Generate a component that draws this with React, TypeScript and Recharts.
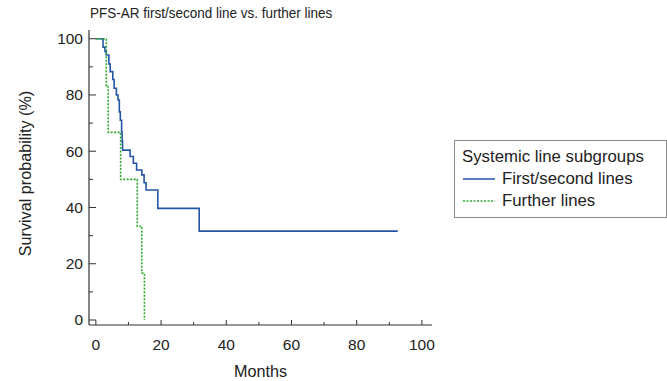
// PFS-AR Kaplan-Meier curves (step lines)
import React from 'react'
import { LineChart, Line, XAxis, YAxis, Legend, Label } from 'recharts'

const blueMonths = [0, 2.2, 2.8, 3.2, 4.0, 4.4, 5.2, 5.6, 6.3, 6.8, 7.2, 7.5, 7.9, 8.05, 8.2, 10.5, 11.5, 12.5, 14.1, 14.8, 15.4, 19.0, 31.7, 92.6]
const blueSurv = [100, 97, 95.5, 94.2, 91, 88.3, 85.5, 82.4, 80, 78.2, 74, 71, 66.8, 63.5, 60.4, 58.1, 55.7, 53.3, 51.6, 48.8, 46.2, 39.7, 31.6, 31.6]

const greenMonths = [0, 3.2, 3.8, 7.6, 12.7, 14.1, 14.9]
const greenSurv = [100, 83.3, 66.7, 50, 33.3, 16.7, 0]

const xTicks = [0, 10, 20, 30, 40, 50, 60, 70, 80, 90, 100]
const yTicks = [0, 10, 20, 30, 40, 50, 60, 70, 80, 90, 100]

const seriesNames = ['First/second lines', 'Further lines']
const legendTitle = 'Systemic line subgroups'
const chartTitle = 'PFS-AR first/second line vs. further lines'

const BLUE = '#2456a6'
const GREEN = '#2eaa2e'
const FONT = '"Liberation Sans", Arial, sans-serif'

const blueData = blueMonths.map((t, i) => ({ t, s: blueSurv[i] }))
const greenData = greenMonths.map((t, i) => ({ t, s: greenSurv[i] }))

const XTick = (props: any) => {
  const { x, y, payload } = props
  const major = payload.value % 20 === 0
  return (
    <g>
      <line x1={x} x2={x} y1={y} y2={y - (major ? 5 : 3)} stroke="#333" strokeWidth={1} />
      {major && (
        <text x={x} y={y + 25} textAnchor="middle" fontSize={15.5} fill="#222" fontFamily={FONT}>
          {payload.value}
        </text>
      )}
    </g>
  )
}

const YTick = (props: any) => {
  const { x, y, payload } = props
  const major = payload.value % 20 === 0
  return (
    <g>
      <line x1={x} x2={x + (major ? 7 : 4)} y1={y} y2={y} stroke="#333" strokeWidth={1} />
      {major && (
        <text x={x - 6} y={y + 5.5} textAnchor="end" fontSize={15.5} fill="#222" fontFamily={FONT}>
          {payload.value}
        </text>
      )}
    </g>
  )
}

const LegendBox = () => (
  <div
    style={{
      border: '1.5px solid #8a8a8a',
      width: 213,
      height: 78,
      boxSizing: 'border-box',
      fontFamily: FONT,
      fontSize: 16.8,
      color: '#222',
      padding: '5px 0 0 7px',
      lineHeight: '22px',
      background: '#fff',
      whiteSpace: 'nowrap',
    }}
  >
    <div>{legendTitle}</div>
    {seriesNames.map((name, i) => (
      <div key={name} style={{ display: 'flex', alignItems: 'center' }}>
        <svg width={36} height={10}>
          <line
            x1={1}
            x2={33}
            y1={5}
            y2={5}
            stroke={i === 0 ? BLUE : GREEN}
            strokeWidth={1.5}
            strokeDasharray={i === 0 ? undefined : '2 1.5'}
          />
        </svg>
        <span style={{ marginLeft: 4 }}>{name}</span>
      </div>
    ))}
  </div>
)

export default function App() {
  return (
    <div style={{ position: 'relative', width: 667, height: 381 }}>
      <style>{'body{margin:0}'}</style>
      <div
        style={{
          position: 'absolute',
          left: 90,
          top: 4,
          fontFamily: FONT,
          fontSize: 15,
          color: '#222',
          whiteSpace: 'nowrap',
          transform: 'scaleX(0.9)',
          transformOrigin: '0 0',
        }}
      >
        {chartTitle}
      </div>
      <LineChart width={667} height={381} margin={{ top: 30, right: 235, left: 0, bottom: 0 }}>
        <XAxis
          type="number"
          dataKey="t"
          domain={[-2.1, 103.1]}
          allowDataOverflow
          ticks={xTicks}
          interval={0}
          tickSize={0}
          tickMargin={0}
          tickLine={false}
          tick={<XTick />}
          axisLine={{ stroke: '#333', strokeWidth: 1.2 }}
          height={56}
        >
          <Label
            content={({ viewBox }: any) => (
              <text
                x={viewBox.x + viewBox.width / 2}
                y={viewBox.y + 52}
                textAnchor="middle"
                fontSize={16.2}
                fill="#222"
                fontFamily={FONT}
              >
                Months
              </text>
            )}
          />
        </XAxis>
        <YAxis
          type="number"
          dataKey="s"
          domain={[-1.78, 103.1]}
          allowDataOverflow
          ticks={yTicks}
          interval={0}
          tickSize={0}
          tickMargin={0}
          tickLine={false}
          tick={<YTick />}
          axisLine={{ stroke: '#333', strokeWidth: 1.2 }}
          width={89}
        >
          <Label
            content={({ viewBox }: any) => {
              const cx = 30.5
              const cy = viewBox.y + viewBox.height / 2 - 4
              return (
                <text
                  x={cx}
                  y={cy}
                  transform={`rotate(-90 ${cx} ${cy})`}
                  textAnchor="middle"
                  fontSize={16.2}
                  fill="#222"
                  fontFamily={FONT}
                >
                  Survival probability (%)
                </text>
              )
            }}
          />
        </YAxis>
        <Legend
          layout="vertical"
          align="center"
          verticalAlign="middle"
          content={<LegendBox />}
          wrapperStyle={{ position: 'absolute', left: 454, top: 140, width: 213 }}
        />
        <Line
          data={blueData}
          dataKey="s"
          name={seriesNames[0]}
          type="stepAfter"
          stroke={BLUE}
          strokeWidth={1.6}
          dot={false}
          isAnimationActive={false}
        />
        <Line
          data={greenData}
          dataKey="s"
          name={seriesNames[1]}
          type="stepAfter"
          stroke={GREEN}
          strokeWidth={1.6}
          strokeDasharray="2 1.5"
          dot={false}
          isAnimationActive={false}
        />
      </LineChart>
    </div>
  )
}
